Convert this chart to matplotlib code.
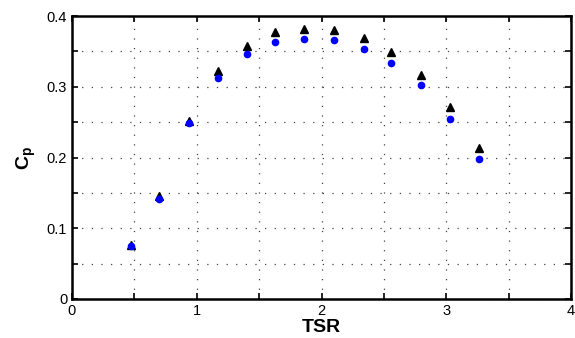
import numpy as np
import matplotlib
matplotlib.use('Agg')
import matplotlib.pyplot as plt

plt.rcParams['font.family'] = ['Liberation Sans', 'DejaVu Sans']

# TSR values
tsr = [0.47, 0.70, 0.94, 1.17, 1.40, 1.63, 1.86, 2.10, 2.34, 2.56, 2.80, 3.03, 3.26]
# black triangles
cp_tri = [0.077, 0.146, 0.251, 0.322, 0.358, 0.377, 0.381, 0.380, 0.369, 0.349, 0.316, 0.272, 0.214]
# blue circles
cp_dot = [0.075, 0.141, 0.249, 0.313, 0.346, 0.363, 0.368, 0.366, 0.354, 0.333, 0.303, 0.255, 0.198]

x_ticks = [0, 0.5, 1, 1.5, 2, 2.5, 3, 3.5, 4]
x_labels = ['0', '', '1', '', '2', '', '3', '', '4']
y_ticks = [0, 0.05, 0.1, 0.15, 0.2, 0.25, 0.3, 0.35, 0.4]
y_labels = ['0', '', '0.1', '', '0.2', '', '0.3', '', '0.4']

fig = plt.figure(figsize=(5.75, 3.38), dpi=100)
ax = fig.add_axes([72 / 575, 1 - 299 / 338, 499 / 575, 283 / 338])

ax.plot(tsr, cp_tri, linestyle='none', marker='^', color='black', markersize=5.5)
ax.plot(tsr, cp_dot, linestyle='none', marker='o', color='blue', markersize=4.5)

ax.set_xlim(0, 4)
ax.set_ylim(0, 0.4)
ax.set_xticks(x_ticks)
ax.set_xticklabels(x_labels)
ax.set_yticks(y_ticks)
ax.set_yticklabels(y_labels)
ax.tick_params(direction='in', length=4, width=1.2, labelsize=10.5,
               top=True, right=True, colors='black')
ax.grid(True, linestyle=(0, (1, 6.7)), color='#444444', linewidth=0.9)

for s in ax.spines.values():
    s.set_linewidth(1.8)

ax.set_xlabel('TSR', fontsize=14, fontweight='bold', labelpad=1)
ax.set_ylabel('C$_\\mathregular{p}$', fontsize=14, fontweight='bold', labelpad=6)

fig.savefig('out.png', dpi=100)
